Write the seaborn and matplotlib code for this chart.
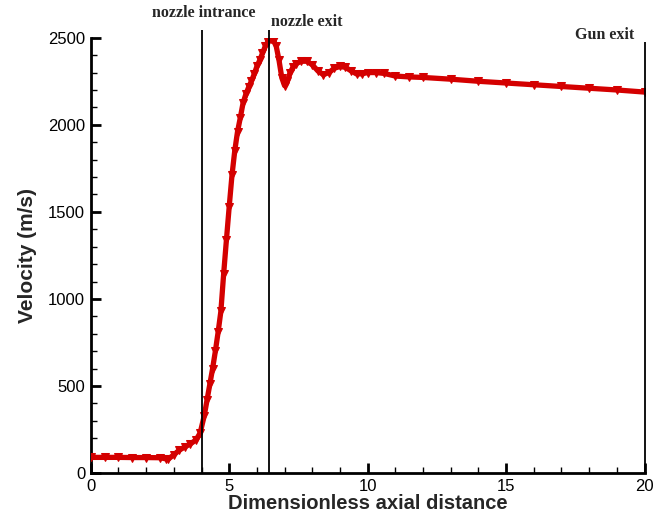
import matplotlib
matplotlib.use("Agg")
import matplotlib.pyplot as plt
import seaborn as sns
import pandas as pd
from matplotlib.ticker import MultipleLocator

# ---- data ----
axial_distance = [0, 0.5, 1, 1.5, 2, 2.5, 2.7, 2.8, 3.0, 3.2, 3.4, 3.6, 3.8, 3.95,
                  4.1, 4.2, 4.3, 4.4, 4.5, 4.6, 4.7, 4.8, 4.9, 5.0, 5.1, 5.2, 5.3,
                  5.4, 5.5, 5.6, 5.7, 5.8, 5.9, 6.0, 6.1, 6.2, 6.3, 6.4, 6.5, 6.6,
                  6.7, 6.8, 6.9, 7.0, 7.1, 7.2, 7.3, 7.4, 7.6, 7.8, 8.0, 8.2, 8.4,
                  8.6, 8.8, 9.0, 9.2, 9.4, 9.6, 9.8, 10.0, 10.3, 10.6, 11.0, 11.5,
                  12, 13, 14, 15, 16, 17, 18, 19, 20]
velocity = [90, 90, 90, 89, 89, 88, 82, 80, 105, 132, 150, 168, 190, 230,
            330, 420, 510, 600, 700, 810, 930, 1145, 1340, 1530, 1710, 1850, 1960,
            2040, 2125, 2175, 2215, 2250, 2290, 2335, 2370, 2410, 2450, 2478, 2490, 2485,
            2450, 2370, 2270, 2225, 2250, 2300, 2330, 2350, 2365, 2365, 2345, 2310, 2288,
            2300, 2325, 2335, 2330, 2310, 2292, 2293, 2300, 2300, 2295, 2280, 2275,
            2272, 2262, 2250, 2240, 2230, 2220, 2210, 2200, 2188]

marker_lines = [4.0, 6.42, 20.0]
marker_labels = ["nozzle intrance", "nozzle exit", "Gun exit"]

df = pd.DataFrame({"x": axial_distance, "v": velocity})

sns.set_style("white")
plt.rcParams["font.family"] = ["Liberation Sans", "DejaVu Sans"]

fig = plt.figure(figsize=(6.53, 5.17), dpi=100)
ax = fig.add_axes([0.139, 0.085, 0.848, 0.842])

red = "#d40000"
sns.lineplot(data=df, x="x", y="v", ax=ax, color=red, linewidth=3.8,
             marker="v", markersize=5.5, markeredgecolor=red, markerfacecolor=red,
             sort=True, zorder=3)

ax.set_xlim(0, 20)
ax.set_ylim(0, 2500)

# vertical marker lines
line_tops = [2546, 2546, 2477]
for xv, top in zip(marker_lines, line_tops):
    ax.vlines(xv, 0, top, color="black", linewidth=1.3, clip_on=False, zorder=4)

label_pos = [(4.09, 2644), (7.8, 2592), (18.55, 2517)]
for (lx, ly), txt in zip(label_pos, marker_labels):
    ax.text(lx, ly, txt, ha="center", va="center", fontsize=11.5,
            fontweight="bold", family=["Liberation Serif", "DejaVu Serif"],
            clip_on=False)

# axes styling
for side in ["top", "right"]:
    ax.spines[side].set_visible(False)
for side in ["left", "bottom"]:
    ax.spines[side].set_linewidth(2)
    ax.spines[side].set_color("black")

ax.xaxis.set_major_locator(MultipleLocator(5))
ax.xaxis.set_minor_locator(MultipleLocator(1))
ax.yaxis.set_major_locator(MultipleLocator(500))
ax.yaxis.set_minor_locator(MultipleLocator(100))
ax.tick_params(which="major", direction="in", length=7, width=2, labelsize=12,
               colors="black", pad=4)
ax.tick_params(which="minor", direction="in", length=4, width=1, colors="black")
ax.tick_params(axis="x", which="both", bottom=True)
ax.tick_params(axis="y", which="both", left=True)

ax.set_xlabel("Dimensionless axial distance", fontsize=14.5, fontweight="bold", labelpad=0)
ax.set_ylabel("Velocity (m/s)", fontsize=15, fontweight="bold", labelpad=8)

fig.savefig("out.png", dpi=100)
